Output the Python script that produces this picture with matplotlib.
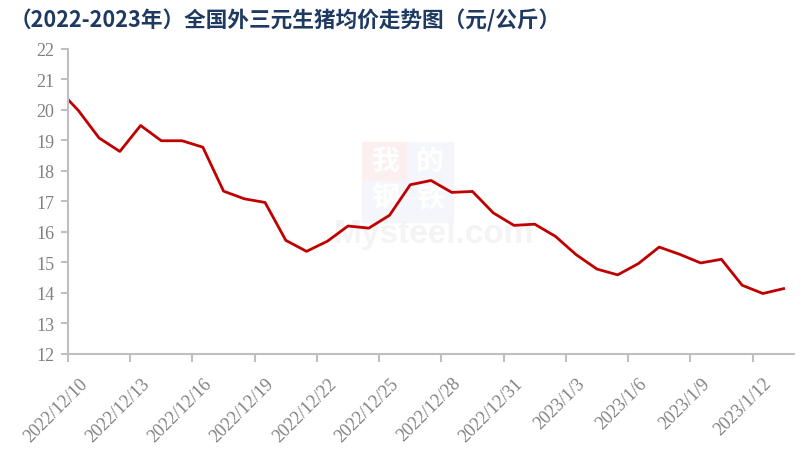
import matplotlib
matplotlib.use('Agg')
import matplotlib.pyplot as plt
from matplotlib.patches import Rectangle

plt.rcParams['font.family'] = ['Liberation Serif', 'DejaVu Serif']

# 日期（第一个点在坐标轴左侧，被裁掉一半）
dates = ['2022/12/9',
         '2022/12/10', '2022/12/11', '2022/12/12', '2022/12/13', '2022/12/14',
         '2022/12/15', '2022/12/16', '2022/12/17', '2022/12/18', '2022/12/19',
         '2022/12/20', '2022/12/21', '2022/12/22', '2022/12/23', '2022/12/24',
         '2022/12/25', '2022/12/26', '2022/12/27', '2022/12/28', '2022/12/29',
         '2022/12/30', '2022/12/31', '2023/1/1', '2023/1/2', '2023/1/3',
         '2023/1/4', '2023/1/5', '2023/1/6', '2023/1/7', '2023/1/8',
         '2023/1/9', '2023/1/10', '2023/1/11', '2023/1/12', '2023/1/13']

# 均价 元/公斤
price = [20.69,
         19.97, 19.07, 18.63, 19.48, 18.98, 18.98, 18.77, 17.33, 17.08, 16.96,
         15.72, 15.36, 15.69, 16.19, 16.12, 16.54, 17.54, 17.68, 17.29, 17.32,
         16.62, 16.21, 16.25, 15.85, 15.25, 14.78, 14.59, 14.96, 15.50, 15.26,
         14.98, 15.10, 14.25, 13.98, 14.14]

title = '（2022-2023年）全国外三元生猪均价走势图（元/公斤）'
grey = '#808080'
axis_col = '#BFBFBF'

x = list(range(-1, len(price) - 1))

fig = plt.figure(figsize=(8.1, 4.56), dpi=100)
ax = fig.add_axes([68/810, 1 - 355/456, (794-68)/810, (355-49.5)/456])
ax.set_zorder(1)
ax.patch.set_alpha(0)

# 水印（我的钢铁 Mysteel.com）
def box(x0, y0, w, h, c):
    fig.patches.append(Rectangle((x0/810, 1-(y0+h)/456), w/810, h/456,
                                 transform=fig.transFigure, color=c, zorder=0))

box(362, 143, 45, 39, '#FCEFEF')
box(407, 143, 46, 39, '#F5F6FB')
box(362, 182, 91, 41, '#F5F6FB')
for s, cx, cy in [('我', 385, 162), ('的', 430, 162), ('钢', 385, 199), ('铁', 430, 199)]:
    fig.text(cx/810, 1-cy/456, s, fontsize=20, color='white', ha='center', va='center',
             family=['Noto Sans CJK SC'], fontweight='bold', zorder=0.5)
fig.text(434/810, 1-243/456, 'Mysteel.com', fontsize=24, color='#F4F4F4', ha='center',
         va='baseline', family=['Liberation Sans'], fontweight='bold', zorder=0.6)

ax.plot(x, price, color='#C00000', linewidth=2.0, solid_joinstyle='round')

ax.set_xlim(-0.5, len(price) - 1.5)
ax.set_ylim(12, 22)
ax.set_yticks(range(12, 23))
ax.tick_params(axis='y', colors=axis_col, labelcolor=grey, labelsize=13, length=5,
               width=1.5, pad=5)

# x轴：刻度线在类别边界，每3天一个标签
lab_idx = list(range(0, len(price) - 1, 3))
ax.set_xticks([i - 0.5 for i in lab_idx])
ax.set_xticklabels([])
ax.tick_params(axis='x', colors=axis_col, length=6, width=1.5)
for i in lab_idx:
    ax.annotate(dates[i + 1], xy=(i - 0.5, 0), xycoords=('data', 'axes fraction'),
                xytext=(12, -19), textcoords='offset points', rotation=45,
                ha='right', va='center', rotation_mode='anchor', fontsize=13, color=grey,
                annotation_clip=False)

for side in ['top', 'right']:
    ax.spines[side].set_visible(False)
for side in ['left', 'bottom']:
    ax.spines[side].set_color(axis_col)
    ax.spines[side].set_linewidth(1.5)

fig.text(10/810, 1 - 21/456, title, fontsize=15.6, fontweight='bold', color='#1F3A62',
         ha='left', va='center', family=['Noto Sans CJK SC', 'DejaVu Sans'])

fig.savefig('out.png', dpi=100)
